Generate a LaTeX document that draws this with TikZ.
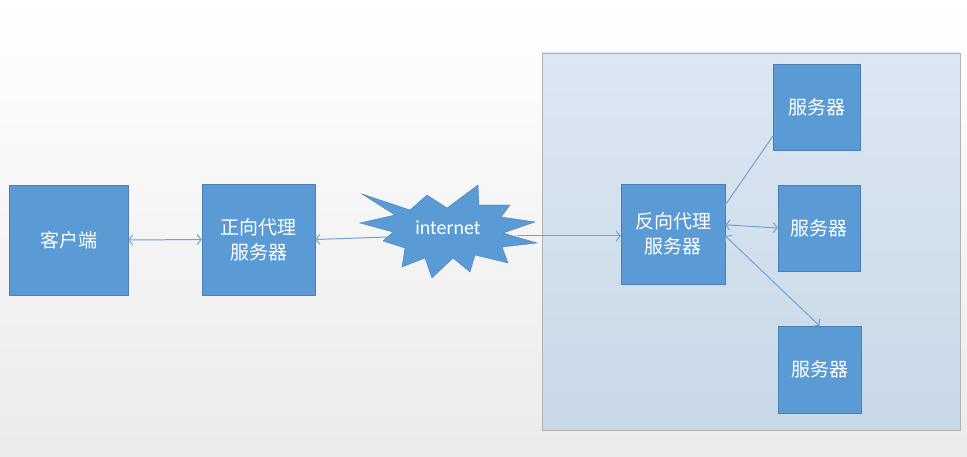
\documentclass[tikz,border=0pt]{standalone}
\usepackage{fontspec}
\setmainfont{Carlito}
\newfontfamily\cjk{Noto Sans CJK SC}
\usetikzlibrary{arrows.meta}

\definecolor{boxblue}{HTML}{5B9BD5}
\definecolor{boxedge}{HTML}{4A80B4}
\definecolor{linkblue}{HTML}{6FA3D8}
\definecolor{zonetop}{HTML}{DCE7F2}
\definecolor{zonebot}{HTML}{C8D8E7}

\tikzset{
  box/.style={draw=boxedge, fill=boxblue, text=white, align=center,
    font=\cjk\fontsize{19}{25}\selectfont, inner sep=0pt},
  link/.style={draw=linkblue, line width=1pt},
  >={Straight Barb[length=4pt, width=10pt]},
}

\begin{document}
\begin{tikzpicture}[x=1pt, y=-1pt]
 \shade[top color=white, bottom color=black!8] (0,0) rectangle (967,457);
 \useasboundingbox (0,0) rectangle (967,457);
 % right zone
 \shade[top color=zonetop, bottom color=zonebot, draw=black!30] (542,53) rectangle (960,430);
 % internet burst
 \filldraw[draw=boxedge, fill=boxblue, line join=miter]
   (362,194) -- (410,210) -- (427,195) -- (447,208) -- (478,185) -- (479,205)
   -- (510,205) -- (501,217) -- (535,222) -- (503,233) -- (537,243) -- (502,247)
   -- (508,263) -- (475,255) -- (470,272) -- (453,258) -- (432,278) -- (425,258)
   -- (402,267) -- (405,248) -- (383,241) -- (393,232) -- (360,223) -- (395,215) -- cycle;
 \node (net) [text=white, font=\fontsize{20}{24}\selectfont] at (448,228) {internet};
 \coordinate (netw) at (388,237);
 \coordinate (nete) at (517,236);
 \node (client) [box, minimum width=119pt, minimum height=110pt] at (68.5,240) {客户端};
 \node (fwd) [box, minimum width=113pt, minimum height=111pt] at (258.5,239.5) {正向代理\\服务器};
 \node (rev) [box, minimum width=104pt, minimum height=100pt] at (673,234) {反向代理\\服务器};
 \node (s1) [box, minimum width=87pt, minimum height=86pt] at (816.5,107) {服务器};
 \node (s2) [box, minimum width=82pt, minimum height=86pt] at (819,228) {服务器};
 \node (s3) [box, minimum width=83pt, minimum height=87pt] at (819.5,369.5) {服务器};
 \coordinate (s1in) at (773,136);
 \draw[link, <->] (client.east) -- (fwd.west);
 \draw[link, <-] (fwd.east) -- (netw);
 \draw[link, ->] (nete) -- (rev.west |- nete);
 \draw[link] (rev.29) -- (s1in);
 \draw[link, <->] (rev.10) -- (s2.west);
 \draw[link, <->] (rev.-2) -- (s3.north);
\end{tikzpicture}
\end{document}
